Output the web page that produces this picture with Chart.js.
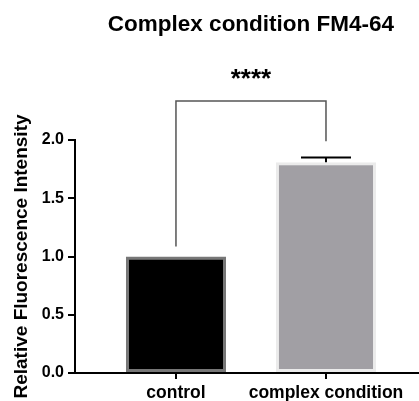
<!DOCTYPE html>
<html>
<head>
<meta charset="utf-8">
<script src="https://cdn.jsdelivr.net/npm/chart.js@4.4.0/dist/chart.umd.min.js"></script>
<style>
  body{margin:0;background:#fff;}
</style>
</head>
<body>
<canvas id="myChart" width="419" height="401"></canvas>
<script>
// data
const categories=['control','complex condition'];
const meanValues=[1.0,1.81];
const semValues=[0,0.04];
const fillColors=['#000000','#a19fa4'];
const edgeColors=['#777777','#ebebeb'];
const yTicks=[0,0.5,1.0,1.5,2.0];
// significance bracket (in y units)
const bracketTop=2.335;
const bracketLegEnds=[1.085,1.99];
const starsText='****';
const starsLevel=2.455;
const titleText='Complex condition FM4-64';

const points=categories.map((c,i)=>({x:i,y:meanValues[i]}));

const extras={
  id:'extras',
  afterDatasetsDraw(chart){
    const ctx=chart.ctx;
    const xs=chart.scales.x, ys=chart.scales.y;
    ctx.save();
    // error bars (upper only)
    ctx.strokeStyle='#000';
    ctx.lineWidth=2;
    semValues.forEach((s,i)=>{
      if(!s) return;
      const x=xs.getPixelForValue(i);
      const y0=ys.getPixelForValue(meanValues[i]);
      const y1=ys.getPixelForValue(meanValues[i]+s);
      ctx.beginPath();
      ctx.moveTo(x,y0);ctx.lineTo(x,y1);
      ctx.moveTo(x-25,y1);ctx.lineTo(x+25,y1);
      ctx.stroke();
    });
    // bracket
    const xa=xs.getPixelForValue(0), xb=xs.getPixelForValue(1);
    ctx.strokeStyle='#555';
    ctx.lineWidth=1.5;
    ctx.beginPath();
    ctx.moveTo(xa,ys.getPixelForValue(bracketLegEnds[0]));
    ctx.lineTo(xa,ys.getPixelForValue(bracketTop));
    ctx.lineTo(xb,ys.getPixelForValue(bracketTop));
    ctx.lineTo(xb,ys.getPixelForValue(bracketLegEnds[1]));
    ctx.stroke();
    // stars + title
    ctx.fillStyle='#000';
    ctx.textAlign='center';
    ctx.textBaseline='alphabetic';
    ctx.font='bold 26px Arial, "Liberation Sans"';
    ctx.fillText(starsText,(xa+xb)/2,ys.getPixelForValue(starsLevel));
    ctx.textBaseline='middle';
    ctx.font='bold 22.5px Arial, "Liberation Sans"';
    ctx.fillText(titleText,(xa+xb)/2,25);
    ctx.restore();
  }
};

const ctx=document.getElementById('myChart').getContext('2d');
const myChart=new Chart(ctx,{
  type:'bar',
  data:{
    datasets:[{
      data:points,
      backgroundColor:fillColors,
      borderColor:edgeColors,
      borderWidth:3,
      borderSkipped:false,
      barPercentage:0.667,
      categoryPercentage:1
    }]
  },
  options:{
    responsive:false,
    animation:false,
    layout:{padding:{top:140,right:0,left:0,bottom:0}},
    plugins:{legend:{display:false},tooltip:{enabled:false},title:{display:false}},
    scales:{
      x:{
        type:'linear',
        offset:false,
        min:-0.673,
        max:1.62,
        afterBuildTicks(scale){scale.ticks=categories.map((c,i)=>({value:i}));},
        afterFit(scale){scale.height=28;},
        ticks:{
          color:'#000',
          padding:4,
          maxRotation:0,
          font:{family:'Arial, "Liberation Sans"',size:17.5,weight:'bold'},
          callback:(v)=>categories[v]??''
        },
        grid:{offset:false,drawOnChartArea:false,drawTicks:true,tickLength:6,color:'#000',lineWidth:2},
        border:{display:true,color:'#000',width:2}
      },
      y:{
        min:0,
        max:2,
        afterBuildTicks(scale){scale.ticks=yTicks.map(v=>({value:v}));},
        afterFit(scale){scale.width=75;},
        ticks:{
          color:'#000',
          padding:4,
          font:{family:'Arial, "Liberation Sans"',size:16,weight:'bold'},
          callback:(v)=>v.toFixed(1)
        },
        grid:{drawOnChartArea:false,drawTicks:true,tickLength:7,color:'#000',lineWidth:2},
        border:{display:true,color:'#000',width:2},
        title:{
          display:true,
          text:'Relative Fluorescence Intensity',
          color:'#000',
          padding:{top:10,bottom:0},
          font:{family:'Arial, "Liberation Sans"',size:19,weight:'bold'}
        }
      }
    }
  },
  plugins:[extras]
});
</script>
</body>
</html>
